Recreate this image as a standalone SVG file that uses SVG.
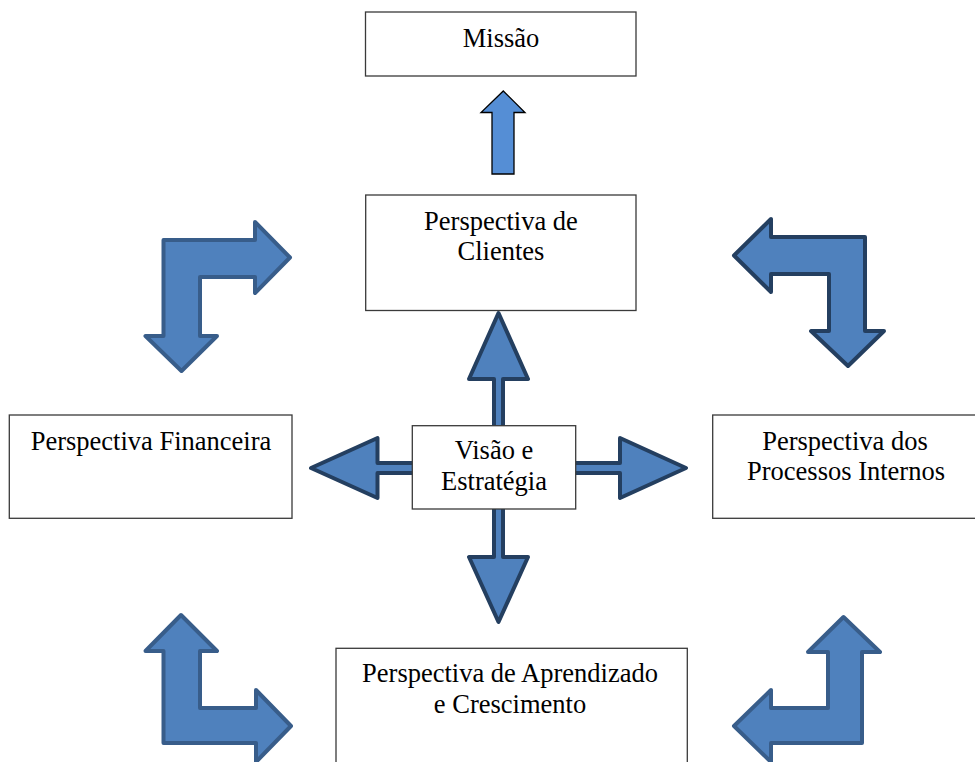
<svg xmlns="http://www.w3.org/2000/svg" width="975" height="762" viewBox="0 0 975 762">
<style>
.box{fill:#fff;stroke:#3a3a3a;stroke-width:1.3}
.t{font-family:"Liberation Serif","Times New Roman",serif;font-size:26.5px;fill:#000;text-anchor:middle}
.big{fill:#4F81BD;stroke:#385D8A;stroke-width:4;stroke-linejoin:round}
.dark{stroke:#243F60}
.up{fill:#558ED5;stroke:#000;stroke-width:1.3}
</style>
<rect width="975" height="762" fill="#fff"/>
<g id="connectors">
<path id="arrow-missao" class="up" d="M503.3,91 L525,112.5 L514,112.5 L514,174 L492,174 L492,112.5 L481,112.5 Z"/>
<path id="bent-tl" class="big" d="M163.5,240 L255,240 L255,222 L290,257.5 L255,293 L255,277 L200,277 L200,336 L217,336 L181.5,371 L145.5,336 L163.5,336 Z"/>
<path id="bent-tr" class="big dark" d="M734,255.5 L771,219 L771,237 L865,237 L865,331 L884,331 L848,366 L811,331 L829,331 L829,274 L771,274 L771,292 Z"/>
<path id="bent-bl" class="big" d="M181,615 L217,651 L200,651 L200,708 L256,708 L256,690 L291,726 L256,762 L256,743 L163.5,743 L163.5,651 L145.5,651 Z"/>
<path id="bent-br" class="big" d="M843.5,617 L880,652 L862,652 L862,743 L771,743 L771,762 L734,726 L771,690 L771,708 L828,708 L828,652 L808,652 Z"/>
<path id="quad-arrow" class="big dark" d="M498.5,313 L528,379 L503,379 L503,463 L620,463 L620,438 L686,468 L620,498 L620,473 L503,473 L503,557 L528,557 L498.5,622 L469,557 L494,557 L494,473 L377.5,473 L377.5,498 L311,468 L377.5,438 L377.5,463 L494,463 L494,379 L469,379 Z"/>
</g>
<g id="missao">
<rect class="box" x="365.5" y="12" width="270.5" height="64"/>
<text class="t" x="501" y="47">Missão</text>
</g>
<g id="clientes">
<rect class="box" x="365.7" y="195" width="270.3" height="115.5"/>
<text class="t" x="501" y="230">Perspectiva de</text>
<text class="t" x="501" y="260">Clientes</text>
</g>
<g id="financeira">
<rect class="box" x="9.3" y="415" width="282.7" height="103.3"/>
<text class="t" x="151" y="450">Perspectiva Financeira</text>
</g>
<g id="processos">
<rect class="box" x="712.7" y="415" width="270" height="103.3"/>
<text class="t" x="845" y="450">Perspectiva dos</text>
<text class="t" x="846" y="480">Processos Internos</text>
</g>
<g id="aprendizado">
<rect class="box" x="336" y="648.3" width="351.3" height="130"/>
<text class="t" x="510" y="682">Perspectiva de Aprendizado</text>
<text class="t" x="510" y="713">e Crescimento</text>
</g>
<g id="visao">
<rect class="box" x="412.3" y="425.7" width="163.4" height="83.3"/>
<text class="t" x="494" y="458.5">Visão e</text>
<text class="t" x="494" y="490">Estratégia</text>
</g>
</svg>
